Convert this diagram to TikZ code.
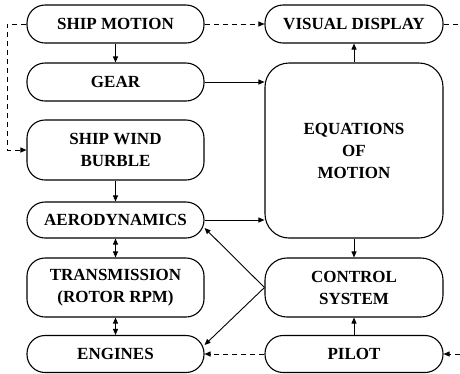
\documentclass[tikz,border=0pt]{standalone}
\usepackage{fontspec}
\setmainfont{Liberation Serif}
\usepackage{tikz}
\usetikzlibrary{arrows.meta, positioning, calc}

\begin{document}
\begin{tikzpicture}[x=1pt, y=-1pt,
  blk/.style={draw, line width=1.1pt, rounded corners=18pt, minimum width=177pt,
    align=center, inner sep=0pt, font=\rmfamily\bfseries\fontsize{17}{22}\selectfont},
  ar/.style={-{Triangle[length=6pt,width=5pt]}, line width=0.9pt},
  dar/.style={ar, dash pattern=on 5pt off 4pt},
  br/.style={{Triangle[length=6pt,width=5pt]}-{Triangle[length=6pt,width=5pt]}, line width=0.9pt}
]
  \useasboundingbox (0,0) rectangle (460,373);
  \node[blk, minimum height=38pt] (sm) at (115.5,24)  {SHIP MOTION};
  \node[blk, minimum height=38pt] (gr) at (115.5,82)  {GEAR};
  \node[blk, minimum height=60pt] (sw) at (115.5,150) {SHIP WIND\\BURBLE};
  \node[blk, minimum height=36pt] (ae) at (115.5,220) {AERODYNAMICS};
  \node[blk, minimum height=59pt] (tr) at (115.5,287.5) {TRANSMISSION\\(ROTOR RPM)};
  \node[blk, minimum height=37pt] (en) at (115.5,354) {ENGINES};
  \node[blk, minimum height=38pt, minimum width=178pt] (vd) at (354,24) {VISUAL DISPLAY};
  \node[blk, minimum height=175pt, minimum width=178pt, rounded corners=24pt] (eq) at (354,150.5) {EQUATIONS\\OF\\MOTION};
  \node[blk, minimum height=59pt, minimum width=178pt, rounded corners=22pt] (cs) at (354,287.5) {CONTROL\\SYSTEM};
  \node[blk, minimum height=37pt, minimum width=178pt] (pl) at (354,354) {PILOT};
  \coordinate (vdout) at (460,24);
  \coordinate (plin) at (460,354);
  \draw[ar] (sm) -- (gr);
  \draw[ar] (sw) -- (ae);
  \draw[br] (ae) -- (tr);
  \draw[br] (tr) -- (en);
  \draw[ar] (gr.east) -- (gr.east -| eq.west);
  \draw[ar] (ae.east) -- (ae.east -| eq.west);
  \draw[ar] (eq) -- (vd);
  \draw[ar] (eq) -- (cs);
  \draw[ar] (pl) -- (cs);
  \draw[ar] (cs.west) -- ([yshift=-8pt]ae.east);
  \draw[ar] (cs.west) -- ([yshift=9pt]en.east);
  \draw[dar] (sm.east) -- (vd.west);
  \draw[dar, -] (vd.east) -- (vdout);
  \draw[dar] (sm.west) -- ++(-19,0) |- (sw.west);
  \draw[dar] (plin) -- (pl.east);
  \draw[dar] (pl.west) -- (en.east);
\end{tikzpicture}
\end{document}
